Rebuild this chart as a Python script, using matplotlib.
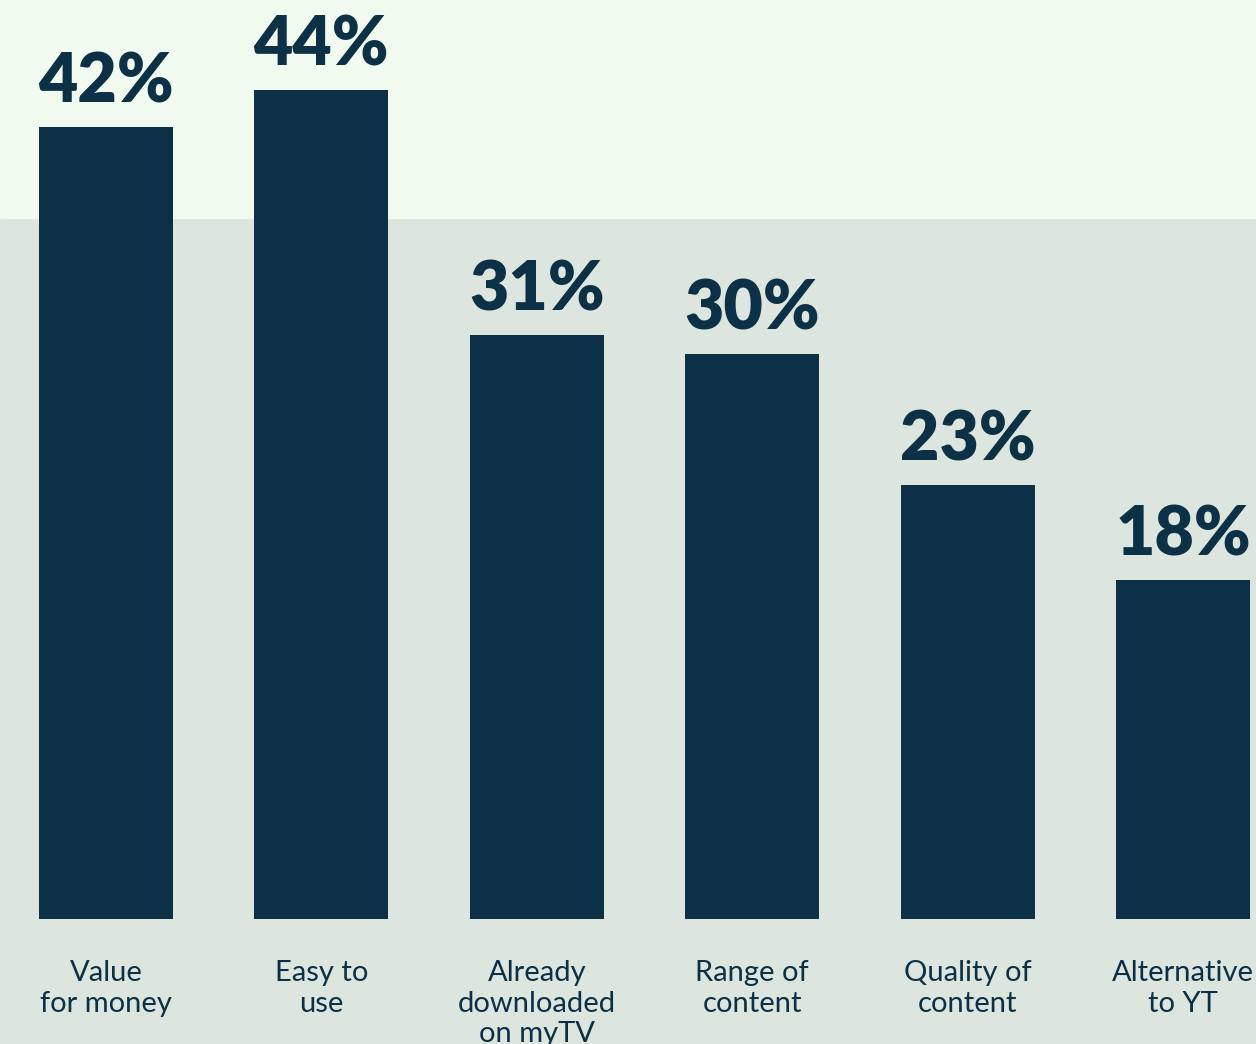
import matplotlib
matplotlib.use('Agg')
import matplotlib.pyplot as plt

# Reasons given for choosing the service (% of respondents)
categories = ['Value\nfor money', 'Easy to\nuse', 'Already\ndownloaded\non myTV',
              'Range of\ncontent', 'Quality of\ncontent', 'Alternative\nto YT']
values = [42, 44, 31, 30, 23, 18]

BAR = '#0c3045'
TOP_BG = '#f1faef'
LOW_BG = '#dce5de'

plt.rcParams['font.family'] = ['Lato', 'DejaVu Sans']

fig = plt.figure(figsize=(12.56, 10.44), dpi=100)
ax = fig.add_axes([0, 0, 1, 1])

x = list(range(len(values)))
ax.set_xlim(-0.492, 5.339)
ax.set_ylim(-6.64, 48.76)

# two-tone background bands
ax.axhspan(-10, 37.2, color=LOW_BG, zorder=0)
ax.axhspan(37.2, 60, color=TOP_BG, zorder=0)

ax.bar(x, values, width=0.622, color=BAR, zorder=2)

for xi, v in zip(x, values):
    ax.text(xi, v + 1.3, f'{v}%', ha='center', va='baseline',
            fontsize=49, fontweight='heavy', color=BAR, zorder=3)

for xi, lab in zip(x, categories):
    ax.text(xi, -2.2, lab, ha='center', va='top', fontsize=21,
            color=BAR, linespacing=1.2, zorder=3)

ax.axis('off')
fig.savefig('out.png', dpi=100)
